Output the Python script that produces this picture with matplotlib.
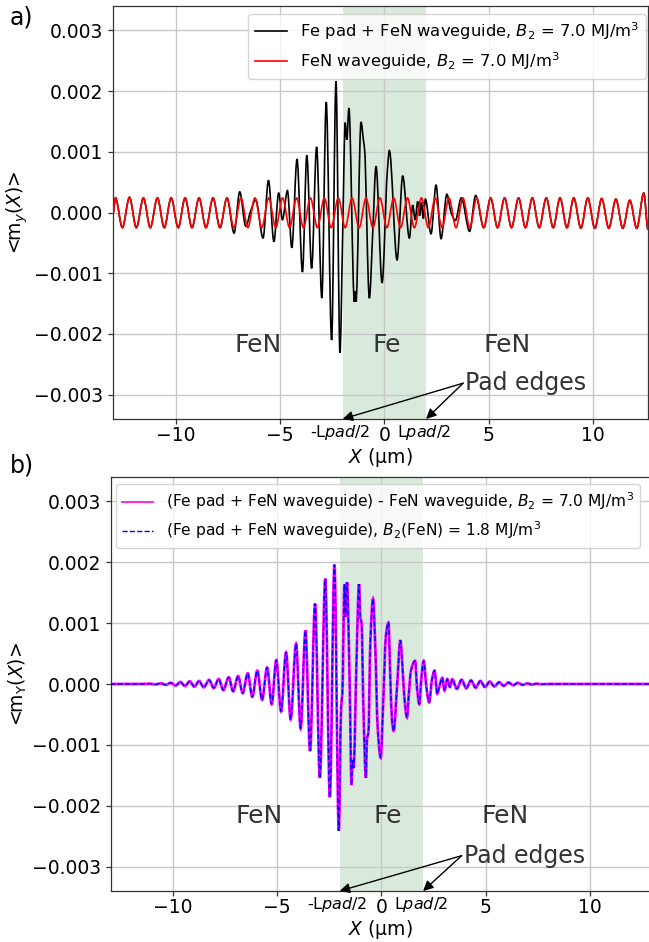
import numpy as np
import matplotlib
matplotlib.use("Agg")
import matplotlib.pyplot as plt
from matplotlib.path import Path
from matplotlib.patches import PathPatch
from matplotlib.lines import Line2D
import matplotlib.transforms as mtransforms

plt.rcParams['font.family'] = ['DejaVu Sans']
plt.rcParams['axes.unicode_minus'] = True

# ---------------- data ----------------
# Panel a, red: FeN waveguide alone (extrema of the standing wave)
red_peak_x = [-12.90, -12.23, -11.56, -10.89, -10.23, -9.56, -8.89, -8.22, -7.55,
              -6.88, -6.21, -5.55, -4.88, -4.21, -3.55, -2.88, -2.21, -1.55, -0.88,
              -0.21, 0.45, 1.11, 1.78, 2.44, 3.10, 3.77, 4.43, 5.10, 5.77, 6.44,
              7.10, 7.77, 8.43, 9.09, 9.76, 10.43, 11.11, 11.78, 12.45]
red_peak_y = [0.00024, 0.00025, 0.00024, 0.00024, 0.00024, 0.00024, 0.00024, 0.00024, 0.00024,
              0.00024, 0.00024, 0.00024, 0.00024, 0.00024, 0.00024, 0.00024, 0.00024, 0.00024, 0.00024,
              0.00024, 0.00024, 0.00024, 0.00024, 0.00024, 0.00024, 0.00024, 0.00024, 0.00024, 0.00024, 0.00024,
              0.00024, 0.00024, 0.00024, 0.00024, 0.00024, 0.00023, 0.00022, 0.00020, 0.00032]
red_trough_x = [-13.02, -12.57, -11.90, -11.23, -10.56, -9.89, -9.23, -8.56, -7.89, -7.22,
                -6.55, -5.88, -5.21, -4.55, -3.88, -3.21, -2.55, -1.88, -1.21, -0.55,
                0.12, 0.78, 1.44, 2.11, 2.77, 3.44, 4.10, 4.77, 5.43, 6.10, 6.77,
                7.43, 8.10, 8.76, 9.43, 10.10, 10.77, 11.44, 12.11, 12.65]
red_trough_y = [-0.00002, -0.00025, -0.00025, -0.00025, -0.00025, -0.00025, -0.00025, -0.00025, -0.00025, -0.00025,
                -0.00025, -0.00025, -0.00025, -0.00025, -0.00025, -0.00025, -0.00025, -0.00025, -0.00025, -0.00025,
                -0.00025, -0.00025, -0.00025, -0.00025, -0.00025, -0.00025, -0.00025, -0.00025, -0.00025, -0.00025, -0.00025,
                -0.00025, -0.00025, -0.00025, -0.00026, -0.00026, -0.00026, -0.00026, -0.00026, -0.00028]

# Panel a, black: Fe pad + FeN waveguide, where it departs from the red curve
black_mid_x = [-7.21, -6.94, -6.65, -6.41, -6.17, -5.82, -5.56, -5.30, -5.07, -4.89,
               -4.65, -4.44, -4.19, -3.93, -3.72, -3.49, -3.25, -3.00, -2.79, -2.53,
               -2.32, -2.13, -2.00, -1.88, -1.80, -1.70, -1.44, -1.40, -1.36, -1.12,
               -1.00, -0.95, -0.72, -0.56, -0.40, -0.11, 0.14, 0.24, 0.61, 0.88,
               1.20, 1.36, 1.48, 1.60, 1.70, 1.78, 1.87, 1.97, 2.24, 2.48,
               2.72, 3.00, 3.20, 3.41, 3.69, 4.09, 4.38]
black_mid_y = [-0.00034, 0.00034, -0.000225, 0.00003, 0.00021, -0.00042, 0.00053, -0.00048, 0.00032, -0.00012,
               0.00036, -0.00058, 0.00088, -0.00098, 0.00094, -0.00092, 0.00108, -0.00141, 0.00182, -0.00210,
               0.00216, -0.00231, -0.00034, 0.00148, 0.00120, 0.00172, -0.00147, -0.00130, -0.00147, 0.00149,
               0.00118, 0.00105, -0.00141, -0.00035, 0.00076, -0.00116, 0.00067, 0.00102, -0.00078, 0.00060,
               -0.00042, 0.00012, -0.00012, 0.00018, -0.00005, 0.00017, -0.00010, 0.00022, -0.00035, 0.00045,
               -0.00043, 0.00030, 0.00000, -0.00013, 0.00024, -0.00031, 0.00028]
black_join_left = -7.40   # black follows the red curve outside this window
black_join_right = 4.60

# Panel b: (Fe pad + FeN) - FeN difference signal
diff_x = [-13.00, -11.50, -11.08, -10.85, -10.57, -10.34, -10.10, -9.87,
          -9.64, -9.42, -9.19, -8.97, -8.74, -8.52, -8.26, -8.04, -7.80, -7.58,
          -7.32, -7.11, -6.87, -6.65, -6.41, -6.19, -5.95, -5.72, -5.48, -5.26,
          -5.04, -4.81, -4.57, -4.35, -4.09, -3.87, -3.64, -3.42, -3.18, -2.95,
          -2.69, -2.47, -2.25, -2.04, -1.93, -1.87, -1.77, -1.72, -1.65, -1.52,
          -1.43, -1.38, -1.33, -1.20, -1.07, -1.01, -0.95, -0.86, -0.74, -0.69,
          -0.62, -0.53, -0.40, -0.29, -0.18, -0.03, 0.08, 0.22, 0.34, 0.43,
          0.51, 0.59, 0.76, 0.91, 0.98, 1.09, 1.23, 1.31, 1.42, 1.62,
          1.71, 1.82, 1.92, 2.03, 2.16, 2.29, 2.44, 2.55, 2.68, 2.79,
          2.92, 3.03, 3.16, 3.29, 3.40, 3.62, 3.85, 4.07, 4.30, 4.52,
          4.75, 4.97, 5.20, 5.42, 5.65, 5.87, 6.10, 6.32, 6.55, 6.77,
          7.00, 7.22, 7.45, 7.67, 8.00, 12.90]
diff_y = [0.0, 0.0, 0.000005, -0.000007, 0.00001, -0.000014, 0.00002, -0.000025,
          0.000033, -0.000033, 0.000044, -0.000044, 0.000049, -0.000055, 0.000066, -0.000066, 0.000082, -0.000099,
          0.00011, -0.00012, 0.00013, -0.00015, 0.000175, -0.00021, 0.00022, -0.00026, 0.00027, -0.00033,
          0.00039, -0.00045, 0.00052, -0.00058, 0.00066, -0.00073, 0.00088, -0.00110, 0.00132, -0.00154,
          0.00173, -0.00186, 0.00196, -0.00241, -0.00038, -0.00016, 0.00164, 0.00110, 0.00167, 0.0,
          -0.00166, -0.00125, -0.00138, 0.00027, 0.00164, 0.00110, 0.00100, -0.00040, -0.00154, -0.00090,
          -0.00080, 0.00066, 0.00140, 0.00060, -0.00070, -0.00121, -0.00038, 0.00080, 0.00101, 0.00010,
          -0.00060, -0.00077, 0.0, 0.00072, 0.00047, -0.00016, -0.00055, -0.00020, 0.00022, 0.00038,
          -0.00006, -0.00033, 0.00010, 0.00038, -0.00005, -0.00030, 0.00010, 0.00022, -0.00016, -0.00003,
          0.00010, -0.00011, 0.00008, -0.00005, 0.00008, -0.00008, 0.00007, -0.00007, 0.00006, -0.00006,
          0.00005, -0.00005, 0.00004, -0.00004, 0.00003, -0.00003, 0.000025, -0.00002, 0.00002, -0.000015,
          0.00001, -0.00001, 0.000006, -0.000004, 0.0, 0.0]
# B2(FeN) = 1.8 MJ/m^3 run: coincides with the difference signal
b2_x = diff_x
b2_y = diff_y

yticks = [-0.003, -0.002, -0.001, 0.0, 0.001, 0.002, 0.003]
xticks = [-10, -5, 0, 5, 10]
pad_left, pad_right = -2.0, 2.0

legend_a = ['Fe pad + FeN waveguide, $B_2$ = 7.0 MJ/m$^3$',
            'FeN waveguide, $B_2$ = 7.0 MJ/m$^3$']
legend_b = ['(Fe pad + FeN waveguide) - FeN waveguide, $B_2$ = 7.0 MJ/m$^3$',
            '(Fe pad + FeN waveguide), $B_2$(FeN) = 1.8 MJ/m$^3$']

# ---------------- helpers ----------------
def smooth_path(x, y):
    """Monotone cubic (PCHIP-style) Bezier path through the given points."""
    x = np.asarray(x, float)
    y = np.asarray(y, float)
    n = len(x)
    h = np.diff(x)
    d = np.diff(y) / h
    m = np.zeros(n)
    for i in range(1, n - 1):
        if d[i - 1] * d[i] > 0:
            w1 = 2 * h[i] + h[i - 1]
            w2 = h[i] + 2 * h[i - 1]
            m[i] = (w1 + w2) / (w1 / d[i - 1] + w2 / d[i])
    verts = [(x[0], y[0])]
    codes = [Path.MOVETO]
    for i in range(n - 1):
        verts += [(x[i] + h[i] / 3, y[i] + m[i] * h[i] / 3),
                  (x[i + 1] - h[i] / 3, y[i + 1] - m[i + 1] * h[i] / 3),
                  (x[i + 1], y[i + 1])]
        codes += [Path.CURVE4] * 3
    return Path(verts, codes)


def draw_curve(ax, x, y, **kw):
    patch = PathPatch(smooth_path(x, y), facecolor='none', **kw)
    ax.add_patch(patch)
    return patch


# red extrema merged in x order
red_x = np.array(red_peak_x + red_trough_x)
red_y = np.array(red_peak_y + red_trough_y)
order = np.argsort(red_x)
red_x, red_y = red_x[order], red_y[order]

# black: red outside the pad-affected window, read values inside
left_mask = red_x < black_join_left
right_mask = red_x > black_join_right
black_x = np.concatenate([red_x[left_mask], black_mid_x, red_x[right_mask]])
black_y = np.concatenate([red_y[left_mask], black_mid_y, red_y[right_mask]])

# ---------------- figure ----------------
W, H = 649, 942
fig = plt.figure(figsize=(W / 100, H / 100), dpi=100)

def px_axes(l, t, r, b):
    return fig.add_axes([l / W, 1 - b / H, (r - l) / W, (b - t) / H])

ax_a = px_axes(113, 6, 648, 419)
ax_b = px_axes(110.5, 477, 649.5, 891)

band_color = '#d9eadc'
text_color = '#333333'
spine_color = '#333333'

def style_axes(ax, xlim, ylabel, ylabelpad):
    ax.set_xlim(*xlim)
    ax.set_ylim(-0.0034, 0.0034)
    ax.set_axisbelow(True)
    ax.grid(True, color='#c8c8c8', lw=1.0)
    ax.set_xticks(xticks)
    ax.set_yticks(yticks)
    ax.set_yticklabels(['%.3f' % v if v >= 0 else '\u2212%.3f' % abs(v) for v in yticks])
    ax.tick_params(labelsize=13.5, color=spine_color, length=3.5, width=0.9)
    ax.tick_params(axis='x', pad=1.5)
    for s in ax.spines.values():
        s.set_color(spine_color)
        s.set_linewidth(0.9)
    ax.axvspan(pad_left, pad_right, color=band_color, lw=0, zorder=0.3)
    ax.set_xlabel('$X$ (\u00b5m)', fontsize=13.5, labelpad=1)
    ax.set_ylabel(ylabel, fontsize=13.5, labelpad=ylabelpad)
    trans = mtransforms.blended_transform_factory(ax.transData, ax.transAxes)
    off = mtransforms.offset_copy(trans, fig=fig, x=0, y=-4.5, units='dots')
    ax.text(pad_left - 0.12, 0, r'$\text{-L}pad/2$', transform=off,
            ha='center', va='top', fontsize=11.5)
    ax.text(pad_right - 0.1, 0, r'$\text{L}pad/2$', transform=off,
            ha='center', va='top', fontsize=11.5)


def region_labels(ax, xs, y, pad_xy):
    for xx, lab in zip(xs, ['FeN', 'Fe', 'FeN']):
        ax.text(xx, y, lab, fontsize=18, color=text_color, ha='center', va='center')
    tx, ty = pad_xy
    ax.text(tx + 0.1, ty, 'Pad edges', fontsize=17, color=text_color, ha='left', va='center')
    for tip in (pad_left, pad_right):
        ax.annotate('', xy=(tip, -0.0034), xytext=(tx, ty),
                    arrowprops=dict(arrowstyle='-|>', color='black', lw=1.0,
                                    mutation_scale=15, shrinkA=0, shrinkB=0),
                    annotation_clip=False)


# ----- panel a -----
style_axes(ax_a, (-13.02, 12.65), '<m$_y$($X$)>', 3)
draw_curve(ax_a, black_x, black_y, edgecolor='black', lw=1.2, zorder=2)
draw_curve(ax_a, red_x, red_y, edgecolor='red', lw=1.2, zorder=3)
hA = [Line2D([], [], color='black', lw=1.2), Line2D([], [], color='red', lw=1.2)]
ax_a.legend(hA, legend_a, loc='upper right', bbox_to_anchor=(0.997, 0.981),
            borderaxespad=0, fontsize=11.8, framealpha=0.8)
region_labels(ax_a, [-6.07, 0.1, 5.9], -0.00218, (3.78, -0.00281))

# ----- panel b -----
style_axes(ax_b, (-12.99, 12.86), '<m$_\\mathrm{Y}$($X$)>', 2)
draw_curve(ax_b, diff_x, diff_y, edgecolor='magenta', lw=2.0, zorder=2)
draw_curve(ax_b, b2_x, b2_y, edgecolor='blue', lw=1.0, linestyle='--', zorder=3)
hB = [Line2D([], [], color='magenta', lw=1.2), Line2D([], [], color='blue', lw=1.0, ls='--')]
ax_b.legend(hB, legend_b, loc='upper left', bbox_to_anchor=(0.010, 0.983),
            borderaxespad=0, fontsize=11.2, framealpha=0.8)
region_labels(ax_b, [-5.87, 0.29, 5.95], -0.00217, (3.85, -0.00282))

fig.text(10 / W, 1 - 6 / H, 'a)', fontsize=17, ha='left', va='top')
fig.text(10 / W, 1 - 454 / H, 'b)', fontsize=17, ha='left', va='top')

fig.savefig('out.png', dpi=100)
